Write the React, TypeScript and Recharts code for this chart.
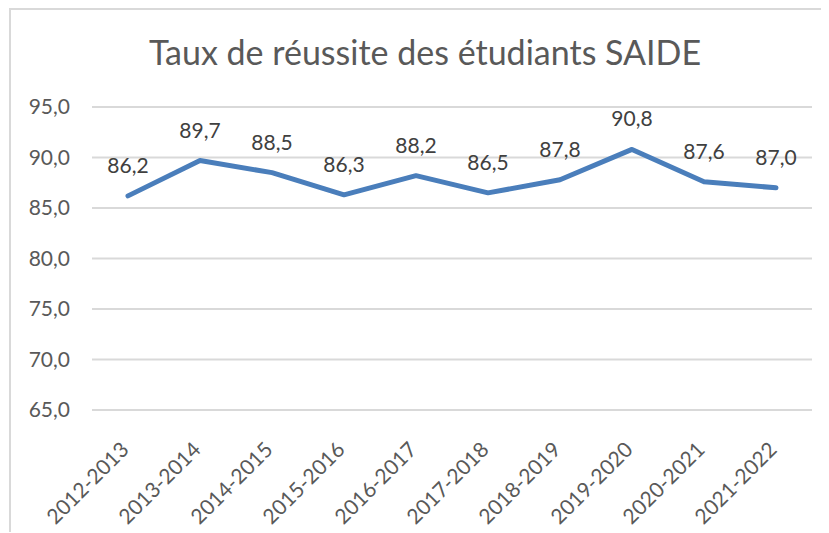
import React from "react";
import { LineChart, Line, XAxis, YAxis, CartesianGrid, LabelList } from "recharts";

const categories = [
  "2012-2013", "2013-2014", "2014-2015", "2015-2016", "2016-2017",
  "2017-2018", "2018-2019", "2019-2020", "2020-2021", "2021-2022",
];
const tauxReussite = [86.2, 89.7, 88.5, 86.3, 88.2, 86.5, 87.8, 90.8, 87.6, 87.0];
const yTicks = [65, 70, 75, 80, 85, 90, 95];
const title = "Taux de réussite des étudiants SAIDE";

const data = categories.map((c, i) => ({ annee: c, taux: tauxReussite[i] }));

const fmt = (v: number) => v.toFixed(1).replace(".", ",");
const FONT = "Lato, 'Open Sans', sans-serif";

const XTick = (props: any) => {
  const { x, y, payload } = props;
  return (
    <g transform={`translate(${x + 2},${y + 33})`}>
      <text
        transform="rotate(-45)"
        textAnchor="end"
        fill="#595959"
        fontSize={21}
        fontFamily={FONT}
      >
        {payload.value}
      </text>
    </g>
  );
};

export default function App() {
  return (
    <div
      style={{
        position: "relative",
        marginLeft: 1,
        width: 818,
        height: 522,
        borderTop: "2px solid #d9d9d9",
        borderLeft: "2px solid #d9d9d9",
        fontFamily: FONT,
      }}
    >
      <LineChart
        width={818}
        height={522}
        data={data}
        margin={{ top: 97, right: 17, bottom: 0, left: 0 }}
      >
        <CartesianGrid vertical={false} stroke="#d9d9d9" strokeWidth={2} />
        <XAxis
          dataKey="annee"
          axisLine={false}
          tickLine={false}
          height={122}
          padding={{ left: 36, right: 36 }}
          interval={0}
          tick={<XTick />}
        />
        <YAxis
          domain={[65, 95]}
          ticks={yTicks}
          width={81}
          axisLine={false}
          tickLine={false}
          tickSize={0}
          tickMargin={22}
          tickFormatter={fmt}
          tick={{ fill: "#595959", fontSize: 21, fontFamily: FONT }}
        />
        <Line
          type="linear"
          dataKey="taux"
          stroke="#4a7ebb"
          strokeWidth={5}
          strokeLinecap="round"
          strokeLinejoin="round"
          dot={false}
          activeDot={false}
          isAnimationActive={false}
        >
          <LabelList
            dataKey="taux"
            position="top"
            offset={23}
            formatter={(v: any) => fmt(Number(v))}
            fill="#404040"
            fontSize={21}
            fontFamily={FONT}
          />
        </Line>
      </LineChart>
      <svg
        width={818}
        height={90}
        style={{ position: "absolute", left: 0, top: 0, pointerEvents: "none" }}
      >
        <text
          x={414}
          y={55}
          textAnchor="middle"
          fill="#595959"
          fontSize={34}
          fontFamily={FONT}
        >
          {title}
        </text>
      </svg>
    </div>
  );
}
